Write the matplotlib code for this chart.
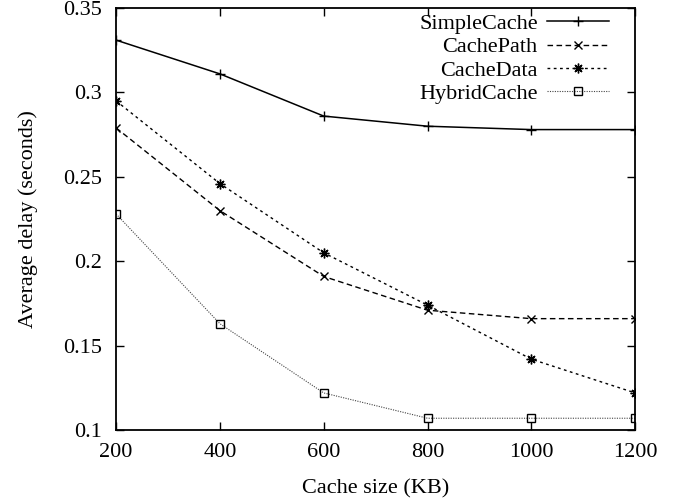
import matplotlib
matplotlib.use('Agg')
import matplotlib.pyplot as plt

cache_size = [200, 400, 600, 800, 1000, 1200]
simple_cache = [0.331, 0.311, 0.286, 0.280, 0.278, 0.278]
cache_path = [0.279, 0.230, 0.191, 0.171, 0.166, 0.166]
cache_data = [0.295, 0.246, 0.205, 0.174, 0.142, 0.122]
hybrid_cache = [0.228, 0.163, 0.122, 0.107, 0.107, 0.107]

plt.rcParams['font.family'] = ['Liberation Serif']
plt.rcParams['font.size'] = 16

fig = plt.figure(figsize=(6.75, 5.03), dpi=100)
ax = fig.add_axes([0.172, 0.145, 0.769, 0.839])

ax.plot(cache_size, simple_cache, color='black', lw=1.1, ls='-',
        marker='+', ms=7, mew=1, label='SimpleCache')
ax.plot(cache_size, cache_path, color='black', lw=1, ls=(0, (4, 2.5)),
        marker='x', ms=6, mew=1, label='CachePath')
ax.plot(cache_size, cache_data, color='black', lw=1, ls=(0, (2, 2.5)),
        marker=(8, 2, 0), ms=7, mew=1, label='CacheData')
ax.plot(cache_size, hybrid_cache, color='#444444', lw=0.8, ls=(0, (1, 1.2)),
        marker='s', ms=6, mew=1, mfc='none', mec='black', label='HybridCache')

ax.set_xlim(200, 1200)
ax.set_ylim(0.1, 0.35)
ax.set_xticks([200, 400, 600, 800, 1000, 1200])
ax.set_yticks([0.1, 0.15, 0.2, 0.25, 0.3, 0.35])
ax.set_yticklabels(['0.1', '0.15', '0.2', '0.25', '0.3', '0.35'])
ax.tick_params(axis='y', direction='in', right=True, length=6, width=1, pad=10)
ax.tick_params(axis='x', direction='in', top=True, length=6, width=1, pad=9)
for s in ax.spines.values():
    s.set_linewidth(1.3)

ax.set_xlabel('Cache size (KB)', labelpad=13)
ax.set_ylabel('Average delay (seconds)', labelpad=18)

leg = ax.legend(loc='upper right', frameon=False, markerfirst=False,
                handlelength=2.8, handletextpad=0.4, labelspacing=0.12,
                borderaxespad=0.0, borderpad=0.25)
leg.set_bbox_to_anchor((0.96, 1.0), transform=ax.transAxes)

fig.savefig('out.png', dpi=100)
